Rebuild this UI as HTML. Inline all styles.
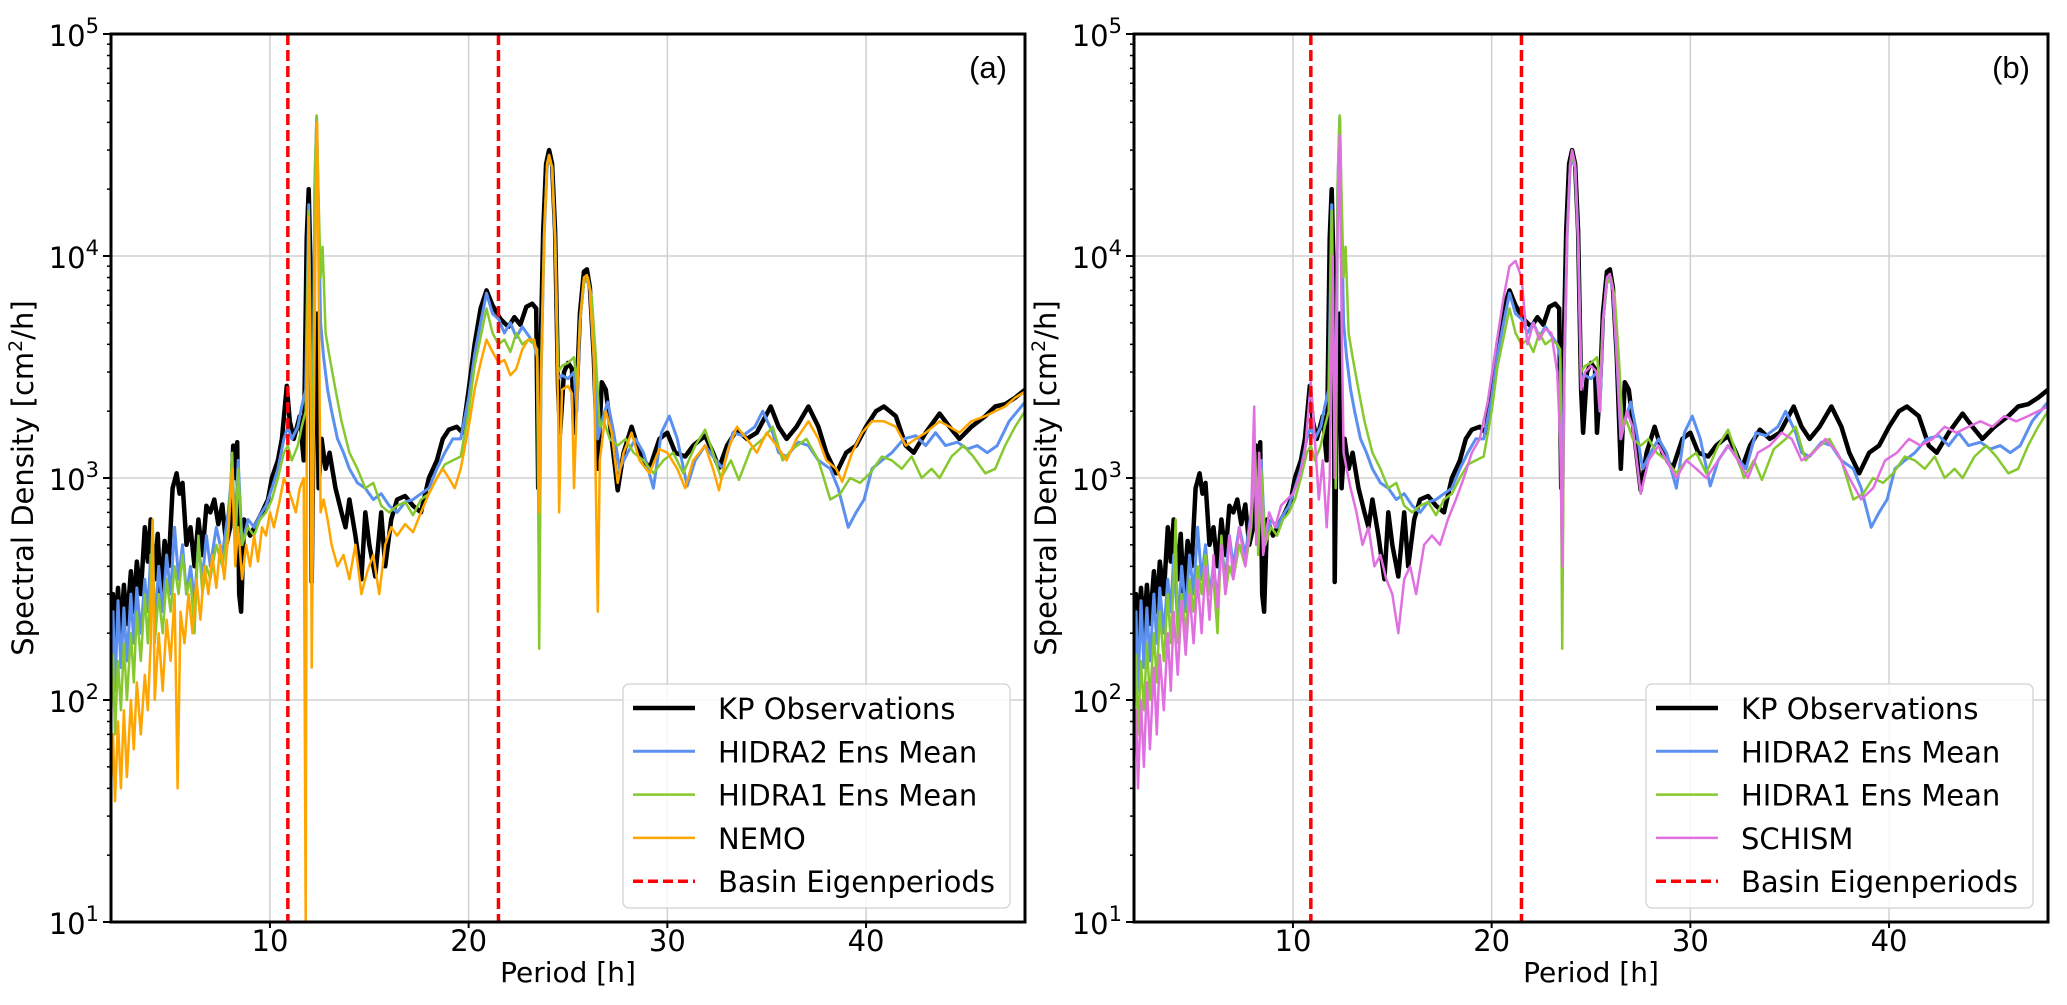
<!DOCTYPE html>
<html><head><meta charset="utf-8"><style>
html,body{margin:0;padding:0;background:#fff;}
svg{display:block;font-family:"DejaVu Sans","Liberation Sans",sans-serif;}
</style></head><body>
<svg id="chart" width="2067" height="1005" viewBox="0 0 2067 1005" xmlns="http://www.w3.org/2000/svg"></svg>
<script>
const xTicks=[10,20,30,40];
const yTickExps=[1,2,3,4,5];
const eigenPeriods=[10.9,21.5];
const kpObs=[[2,180],[2.1,300],[2.2,170],[2.35,320],[2.5,200],[2.65,330],[2.8,220],[3,380],[3.15,250],[3.3,420],[3.5,300],[3.7,600],[3.85,420],[4,650],[4.2,350],[4.35,560],[4.5,300],[4.7,520],[4.9,400],[5.1,900],[5.3,1050],[5.45,850],[5.6,950],[5.8,500],[6,600],[6.2,400],[6.4,650],[6.6,450],[6.8,750],[7,700],[7.2,800],[7.4,620],[7.6,760],[7.8,500],[8,600],[8.15,1400],[8.25,1000],[8.35,1450],[8.45,300],[8.55,250],[8.7,650],[9,550],[9.3,620],[9.6,700],[9.9,800],[10.1,1000],[10.4,1200],[10.6,1500],[10.85,2600],[11,1800],[11.2,1500],[11.5,1900],[11.7,1200],[11.85,12000],[11.95,20000],[12.05,8000],[12.1,340],[12.2,2000],[12.35,5500],[12.45,900],[12.6,1500],[12.8,1100],[13,1300],[13.3,900],[13.6,700],[13.8,600],[14,800],[14.3,550],[14.6,350],[14.8,700],[15,500],[15.3,360],[15.6,700],[15.8,400],[16.1,650],[16.4,800],[16.8,830],[17.2,750],[17.6,700],[18,1000],[18.4,1200],[18.7,1500],[19,1650],[19.4,1700],[19.7,1600],[20,2500],[20.3,4000],[20.6,5800],[20.9,7000],[21.2,6000],[21.6,5200],[22,4800],[22.3,5300],[22.6,4900],[22.9,5900],[23.2,6100],[23.4,5800],[23.5,900],[23.6,3000],[23.75,13000],[23.9,26000],[24.05,30000],[24.2,26000],[24.35,13000],[24.5,2500],[24.6,1600],[24.8,3000],[25,3300],[25.2,3100],[25.3,1600],[25.45,2500],[25.6,5500],[25.8,8500],[25.95,8700],[26.1,7200],[26.3,3500],[26.5,1100],[26.7,2700],[26.9,2500],[27.2,1500],[27.5,880],[27.8,1300],[28.2,1700],[28.6,1300],[29.1,1100],[29.6,1500],[30,1600],[30.4,1300],[30.9,1250],[31.3,1400],[31.9,1550],[32.3,1300],[32.6,1110],[33,1400],[33.5,1650],[34,1500],[34.5,1600],[35.2,2100],[35.6,1700],[36,1500],[36.5,1700],[37.1,2100],[37.6,1700],[38,1300],[38.5,1050],[39,1300],[39.5,1400],[40,1700],[40.5,2000],[40.9,2100],[41.5,1900],[42,1400],[42.4,1300],[43,1600],[43.7,1950],[44.2,1700],[44.7,1500],[45.3,1700],[46,1900],[46.5,2100],[47,2150],[47.5,2300],[48,2500]];
const hidra2=[[2,120],[2.1,250],[2.2,110],[2.35,280],[2.5,140],[2.65,260],[2.8,150],[3,300],[3.15,180],[3.3,320],[3.5,200],[3.7,350],[3.85,250],[4,450],[4.2,220],[4.4,400],[4.6,250],[4.8,450],[5,300],[5.2,600],[5.4,350],[5.6,500],[5.8,300],[6,400],[6.2,280],[6.4,500],[6.6,350],[6.8,550],[7,400],[7.3,600],[7.6,450],[7.9,700],[8.1,1100],[8.25,600],[8.4,1200],[8.6,500],[8.9,650],[9.2,600],[9.5,680],[9.8,750],[10.1,900],[10.4,1100],[10.7,1500],[10.9,1700],[11.1,1500],[11.4,1700],[11.6,2100],[11.8,2500],[11.95,17000],[12.05,3000],[12.15,1000],[12.25,20000],[12.35,42000],[12.45,15000],[12.55,5000],[12.7,3500],[12.9,2500],[13.1,2000],[13.4,1500],[13.7,1300],[14,1100],[14.4,950],[14.8,900],[15.2,800],[15.6,850],[16,750],[16.4,700],[16.8,780],[17.2,800],[17.6,850],[18,900],[18.4,1100],[18.8,1300],[19.2,1500],[19.6,1500],[20,2300],[20.3,3600],[20.6,5000],[20.9,6800],[21.2,5500],[21.5,5200],[21.8,4500],[22.1,5000],[22.4,4300],[22.7,4800],[23,4400],[23.3,4000],[23.45,3500],[23.55,400],[23.65,3000],[23.8,12500],[23.95,25000],[24.05,28000],[24.2,25000],[24.35,12000],[24.5,2800],[24.7,2900],[25,2800],[25.3,3000],[25.45,2000],[25.6,5000],[25.8,7800],[25.95,8000],[26.1,7000],[26.3,3500],[26.5,1500],[26.7,1800],[27,2200],[27.3,1600],[27.6,1100],[28,1300],[28.4,1500],[28.8,1300],[29.3,900],[29.7,1600],[30.1,1900],[30.5,1500],[31,920],[31.4,1200],[31.9,1400],[32.3,1250],[32.8,1100],[33.3,1600],[33.8,1550],[34.4,1700],[34.8,2000],[35.3,1600],[35.6,1300],[36,1250],[36.6,1450],[37.1,1400],[37.6,1200],[38.2,1100],[38.6,900],[39.1,600],[39.5,700],[39.9,800],[40.3,1100],[40.8,1200],[41.3,1300],[41.9,1500],[42.5,1550],[43,1400],[43.5,1600],[44,1400],[44.6,1450],[45.1,1350],[45.6,1400],[46.1,1300],[46.6,1400],[47.2,1800],[48,2200]];
const hidra1=[[2,80],[2.1,160],[2.2,70],[2.35,150],[2.5,90],[2.65,180],[2.8,100],[3,200],[3.15,120],[3.3,250],[3.5,150],[3.7,300],[3.85,180],[4,350],[4.1,650],[4.2,180],[4.4,300],[4.6,200],[4.8,350],[5,250],[5.2,400],[5.4,300],[5.6,450],[5.8,300],[6,350],[6.2,200],[6.4,550],[6.6,300],[6.8,400],[7,350],[7.3,500],[7.6,400],[7.9,600],[8.1,1300],[8.25,450],[8.4,1100],[8.6,500],[8.9,600],[9.2,550],[9.5,650],[9.8,700],[10.1,800],[10.4,1000],[10.7,1300],[10.9,1400],[11.1,1200],[11.4,1400],[11.6,1700],[11.8,2000],[11.95,16000],[12.05,3000],[12.15,900],[12.25,22000],[12.35,43000],[12.45,18000],[12.55,8000],[12.65,11000],[12.8,4500],[13,3500],[13.3,2500],[13.6,1800],[14,1300],[14.4,1100],[14.8,900],[15.2,950],[15.6,750],[16,700],[16.4,750],[16.8,780],[17.2,680],[17.6,800],[18,850],[18.4,1000],[18.8,1150],[19.2,1200],[19.6,1250],[20,2000],[20.3,3200],[20.6,4300],[20.9,5800],[21.2,4500],[21.5,4000],[21.8,4200],[22.1,3700],[22.4,4500],[22.7,4000],[23,4200],[23.3,4000],[23.45,3800],[23.55,170],[23.65,3000],[23.8,12500],[23.95,26000],[24.05,28500],[24.2,25000],[24.35,12000],[24.5,3000],[24.7,3200],[25,3300],[25.3,3500],[25.45,2600],[25.6,5000],[25.8,7500],[26,8000],[26.2,6500],[26.4,3500],[26.6,1700],[26.8,1800],[27.1,1500],[27.5,1400],[27.9,1500],[28.3,1300],[28.8,1200],[29.3,1050],[29.8,1200],[30.3,1300],[30.8,1050],[31.4,1400],[31.9,1650],[32.3,1300],[32.7,1000],[33.2,1200],[33.6,980],[34.2,1350],[34.8,1500],[35.3,1700],[35.8,1200],[36.3,1350],[37,1500],[37.6,1200],[38.2,800],[38.7,850],[39.2,1000],[39.7,950],[40.2,1050],[40.8,1250],[41.3,1200],[41.8,1100],[42.3,1250],[42.8,1000],[43.3,1100],[43.7,1000],[44.3,1250],[44.9,1400],[45.4,1250],[46,1050],[46.5,1100],[47,1400],[47.5,1700],[48,2000]];
const nemo=[[2,40],[2.1,70],[2.2,35],[2.35,80],[2.5,40],[2.65,90],[2.8,45],[3,100],[3.15,60],[3.3,120],[3.5,70],[3.7,130],[3.85,90],[4,180],[4.1,650],[4.2,100],[4.4,200],[4.6,110],[4.8,230],[5,150],[5.2,300],[5.35,40],[5.5,250],[5.7,180],[5.9,300],[6.1,200],[6.3,350],[6.5,230],[6.7,400],[6.9,300],[7.1,450],[7.3,320],[7.5,500],[7.7,350],[7.9,550],[8.1,1100],[8.25,400],[8.4,600],[8.6,350],[8.8,500],[9,400],[9.2,550],[9.4,420],[9.6,600],[9.8,550],[10,700],[10.2,600],[10.5,800],[10.7,1000],[10.9,900],[11.1,800],[11.3,700],[11.5,900],[11.7,1000],[11.8,10],[11.85,1200],[11.95,15000],[12.05,2000],[12.1,140],[12.2,1500],[12.3,15000],[12.38,40000],[12.45,8000],[12.55,700],[12.7,800],[12.9,650],[13.1,500],[13.4,400],[13.7,450],[14,350],[14.3,500],[14.6,300],[14.9,380],[15.2,450],[15.5,300],[15.8,500],[16.1,600],[16.4,550],[16.8,620],[17.2,570],[17.6,700],[18,850],[18.4,1000],[18.7,1100],[19,1000],[19.3,900],[19.6,1100],[20,1700],[20.3,2500],[20.6,3300],[20.9,4200],[21.2,3700],[21.5,3300],[21.8,3400],[22.1,2900],[22.4,3100],[22.7,3800],[23,4200],[23.3,4200],[23.45,3500],[23.55,700],[23.65,3000],[23.8,12500],[23.95,26000],[24.05,28500],[24.2,25000],[24.35,12000],[24.5,2000],[24.55,700],[24.7,2500],[25,2600],[25.2,2400],[25.3,900],[25.45,2200],[25.6,5000],[25.8,8000],[25.95,8200],[26.1,7000],[26.3,3500],[26.5,250],[26.6,1200],[26.9,2000],[27.2,1600],[27.5,950],[27.8,1300],[28.2,1600],[28.6,1200],[29.1,1050],[29.6,1350],[30,1300],[30.5,1100],[30.9,900],[31.3,1200],[31.9,1400],[32.3,1100],[32.6,880],[33,1300],[33.5,1700],[34,1500],[34.5,1300],[35,1600],[35.5,1400],[36,1200],[36.5,1500],[37.1,1800],[37.6,1500],[38,1200],[38.5,1100],[38.8,960],[39.3,1300],[39.8,1600],[40.3,1800],[40.9,1800],[41.5,1700],[42,1400],[42.5,1500],[43,1600],[43.7,1800],[44.2,1700],[44.7,1600],[45.3,1800],[46,1900],[46.5,2000],[47,2100],[47.5,2300],[48,2450]];
const schism=[[2,50],[2.1,90],[2.2,40],[2.35,100],[2.5,50],[2.65,120],[2.8,60],[3,140],[3.15,70],[3.3,160],[3.5,90],[3.7,200],[3.85,110],[4,250],[4.2,130],[4.4,280],[4.6,160],[4.8,300],[5,180],[5.2,350],[5.4,200],[5.6,400],[5.8,230],[6,450],[6.2,260],[6.4,500],[6.6,300],[6.8,550],[7,350],[7.3,600],[7.6,400],[7.9,700],[8.05,2100],[8.15,500],[8.3,1300],[8.5,450],[8.8,700],[9.1,600],[9.4,750],[9.7,800],[10,850],[10.3,1000],[10.6,1300],[10.9,2700],[11.1,1500],[11.3,800],[11.5,1200],[11.7,600],[11.85,1000],[12,10000],[12.1,1000],[12.2,8000],[12.35,35000],[12.45,5000],[12.55,1300],[12.7,1100],[12.9,900],[13.2,700],[13.5,500],[13.8,600],[14.1,400],[14.4,450],[14.7,350],[15,300],[15.3,200],[15.6,350],[15.9,400],[16.2,300],[16.6,500],[17,550],[17.4,500],[17.8,650],[18.2,800],[18.6,1000],[19,1300],[19.4,1500],[19.8,2200],[20.2,3800],[20.6,6500],[20.9,9000],[21.2,9500],[21.5,8000],[21.8,4000],[22.1,5000],[22.4,4200],[22.7,4700],[23,4500],[23.3,3000],[23.45,1500],[23.55,400],[23.65,3000],[23.8,12500],[23.95,26000],[24.05,30000],[24.2,26000],[24.35,12000],[24.5,2500],[24.7,3000],[25,3200],[25.3,3000],[25.45,2000],[25.6,5000],[25.8,8000],[25.95,8300],[26.1,7000],[26.3,3500],[26.5,1500],[26.8,2000],[27.1,1700],[27.5,850],[27.9,1200],[28.4,1400],[28.8,1200],[29.3,1000],[29.8,1200],[30.3,1100],[30.8,1000],[31.4,1200],[31.9,1400],[32.4,1200],[32.9,1000],[33.4,1300],[34,1400],[34.6,1600],[35.1,1500],[35.6,1200],[36.2,1300],[36.8,1500],[37.4,1300],[38,1000],[38.6,800],[39.2,900],[39.8,1200],[40.4,1300],[41,1500],[41.6,1400],[42.2,1500],[42.8,1700],[43.4,1600],[44,1700],[44.6,1800],[45.2,1700],[45.8,1900],[46.4,1800],[47,1900],[47.5,2000],[48,2100]];

const NS="http://www.w3.org/2000/svg";
const svg=document.getElementById('chart');
function mk(tag,attrs,parent){const e=document.createElementNS(NS,tag);for(const k in attrs)e.setAttribute(k,attrs[k]);(parent||svg).appendChild(e);return e;}

const TOP=34,BOT=922,W=914,XMIN=2,XMAX=48;
function drawPanel(left,label,modelName,modelData,modelColor,id){
  const g=mk('g',{});
  
  
  const xs=p=>left+(p-XMIN)/(XMAX-XMIN)*W;
  const ys=v=>TOP+(5-Math.log10(v))/4*(BOT-TOP);
  const clipId='clip-'+id;
  const cp=mk('clipPath',{id:clipId},g);
  mk('rect',{x:left,y:TOP,width:W,height:BOT-TOP},cp);
  xTicks.forEach(t=>{const l=mk('line',{x1:xs(t),x2:xs(t),y1:TOP,y2:BOT,stroke:'#d0d0d0','stroke-width':1.5},g);
    });
  yTickExps.forEach(e=>{const l=mk('line',{x1:left,x2:left+W,y1:ys(Math.pow(10,e)),y2:ys(Math.pow(10,e)),stroke:'#d0d0d0','stroke-width':1.5},g);
    });
  const series=[[hidra2,'#5b8ff0',3,'hidra2-line'],[hidra1,'#86c92e',2.5,'hidra1-line'],[modelData,modelColor,2.5,modelName.toLowerCase()+'-line'],[kpObs,'#000',4.5,'kp-observations-line']];
  const order=[series[3],series[0],series[1],series[2]];
  order.forEach(s=>{
    const d=s[0].map((pt,i)=>(i?'L':'M')+xs(pt[0]).toFixed(1)+','+ys(pt[1]).toFixed(1)).join('');
    const p=mk('path',{d:d,fill:'none',stroke:s[1],'stroke-width':s[2],'stroke-linejoin':'round','clip-path':'url(#'+clipId+')'},g);
    
    
  });
  eigenPeriods.forEach(t=>{const l=mk('line',{x1:xs(t),x2:xs(t),y1:TOP,y2:BOT,stroke:'#ff0000','stroke-width':3.5,'stroke-dasharray':'11,5'},g);
    });
  const fr=mk('rect',{x:left,y:TOP,width:W,height:BOT-TOP,fill:'none',stroke:'#000','stroke-width':3},g);
  
  xTicks.forEach(t=>{mk('line',{x1:xs(t),x2:xs(t),y1:BOT,y2:BOT+6,stroke:'#000','stroke-width':2},g);
    const tx=mk('text',{x:xs(t),y:951,'font-size':29,'text-anchor':'middle',fill:'#000'},g);tx.textContent=t;
    });
  yTickExps.forEach(e=>{const y=ys(Math.pow(10,e));mk('line',{x1:left-8,x2:left,y1:y,y2:y,stroke:'#000','stroke-width':2},g);
    const tx=mk('text',{x:left-12,y:y+12,'font-size':29,'text-anchor':'end',fill:'#000'},g);
    
    const a=mk('tspan',{},tx);a.textContent='10';const b=mk('tspan',{'font-size':21,dy:-13},tx);b.textContent=e;
    if(e<5){for(let m=2;m<10;m++){const ym=ys(m*Math.pow(10,e));mk('line',{x1:left-4,x2:left,y1:ym,y2:ym,stroke:'#000','stroke-width':1.5},g);}}
  });
  const xl=mk('text',{x:left+W/2,y:982,'font-size':28,'text-anchor':'middle',fill:'#000'},g);xl.textContent='Period [h]';
  
  const yl=mk('text',{x:0,y:0,'font-size':29,'text-anchor':'middle',fill:'#000',transform:'translate('+(left-78)+','+((TOP+BOT)/2)+') rotate(-90)'},g);
  
  const t1=mk('tspan',{},yl);t1.textContent='Spectral Density [cm';const t2=mk('tspan',{'font-size':19,dy:-11},yl);t2.textContent='2';const t3=mk('tspan',{dy:11},yl);t3.textContent='/h]';
  const pl=mk('text',{x:left+W-18,y:TOP+44,'font-size':31,'text-anchor':'end',fill:'#000','font-family':'Liberation Sans, sans-serif'},g);pl.textContent=label;
  
  const lx=left+W-402,ly=684;
  const lg=mk('g',{},g);
  mk('rect',{x:lx,y:ly,width:387,height:224,rx:6,fill:'#fff','fill-opacity':0.85,stroke:'#d8d8d8','stroke-width':1.5},lg);
  const ents=[['KP Observations','#000',4.5,null],['HIDRA2 Ens Mean','#5b8ff0',3,null],['HIDRA1 Ens Mean','#86c92e',2.5,null],[modelName,modelColor,2.5,null],['Basin Eigenperiods','#ff0000',3.5,'10,5']];
  ents.forEach((en,i)=>{const y=ly+24+i*43.3;
    const e=mk('g',{},lg);
    const a={x1:lx+10,x2:lx+72,y1:y,y2:y,stroke:en[1],'stroke-width':en[2]};if(en[3])a['stroke-dasharray']=en[3];mk('line',a,e);
    const t=mk('text',{x:lx+95,y:y+11,'font-size':29,fill:'#000'},e);t.textContent=en[0];});
}
drawPanel(111,'(a)','NEMO',nemo,'#ffa500','a');
drawPanel(1134,'(b)','SCHISM',schism,'#e070e0','b');
</script>
</body></html>
